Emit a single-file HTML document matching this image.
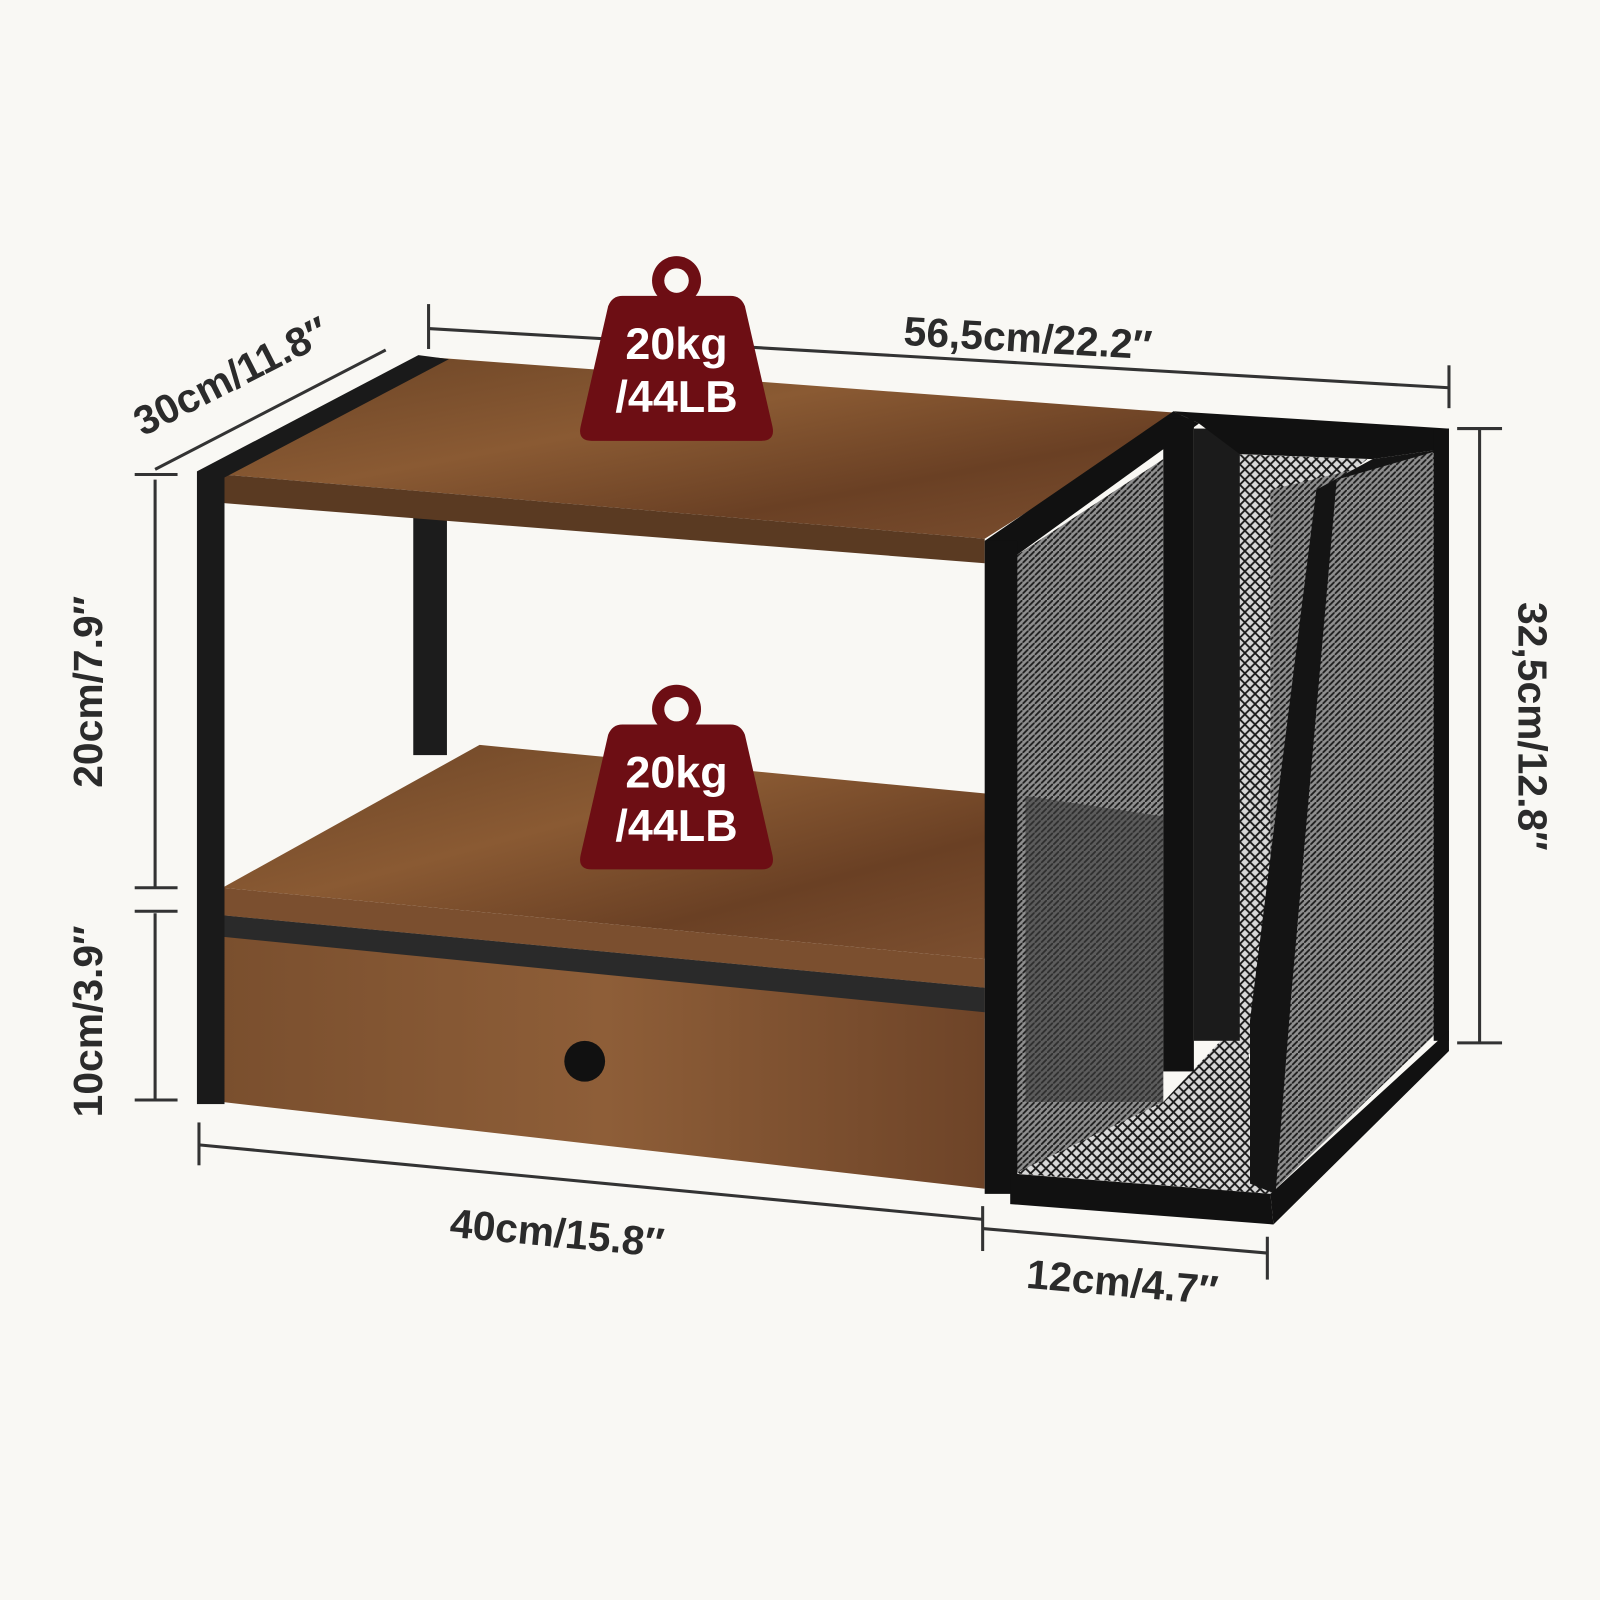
<!DOCTYPE html>
<html><head><meta charset="utf-8"><style>
html,body{margin:0;padding:0;background:#f9f8f4;}
svg{display:block}
text{font-family:"Liberation Sans",sans-serif;fill:#2b2b2b;font-size:40px;font-weight:bold}
</style></head><body>
<svg width="1600" height="1600" viewBox="0 0 1568 1568" xmlns="http://www.w3.org/2000/svg">
<defs>
<linearGradient id="wood" x1="0" y1="0" x2="1" y2="1">
<stop offset="0" stop-color="#6b4426"/><stop offset="0.4" stop-color="#8a5a33"/><stop offset="0.7" stop-color="#6a4024"/><stop offset="1" stop-color="#7d5030"/></linearGradient>
<linearGradient id="woodF" x1="0" y1="0" x2="1" y2="0">
<stop offset="0" stop-color="#7a4f2e"/><stop offset="0.5" stop-color="#8e5e38"/><stop offset="1" stop-color="#6e4428"/></linearGradient>
<pattern id="mesh" width="6" height="6" patternUnits="userSpaceOnUse">
<rect width="6" height="6" fill="#8f8f8f"/><path d="M0 6L6 0" stroke="#1e1e1e" stroke-width="1.8"/></pattern>
<pattern id="mesh2" width="10" height="10" patternUnits="userSpaceOnUse">
<rect width="10" height="10" fill="#d8d8d8"/><path d="M0 0L10 10M10 0L0 10" stroke="#1a1a1a" stroke-width="1.8"/></pattern>
</defs>

<rect x="405" y="500" width="33" height="240" fill="#1c1c1c"/>
<polygon points="218,465 420,350 1160,405 965,528" fill="url(#wood)"/>
<polygon points="218,465 965,528 965,552 218,493" fill="#5a3a22"/>
<polygon points="218,870 470,730 990,780 965,940" fill="url(#wood)"/>
<polygon points="218,870 965,940 965,968 218,897" fill="#7b4f2f"/>
<polygon points="218,897 965,968 965,1165 218,1080" fill="url(#woodF)"/>
<polygon points="218,897 965,968 965,992 218,918" fill="#2a2a2a"/>
<circle cx="573" cy="1040" r="20" fill="#111"/>
<rect x="193" y="462" width="27" height="620" fill="#1a1a1a"/>
<polygon points="193,462 410,348 440,352 220,468" fill="#1a1a1a"/>

<!-- right mesh unit -->
<polygon points="995,545 1140,450 1140,1080 995,1150" fill="url(#mesh)"/>
<polygon points="1210,445 1340,450 1290,490 1230,1030 1210,1040" fill="url(#mesh2)"/>
<polygon points="1245,480 1410,440 1410,1010 1245,1170" fill="url(#mesh)"/>
<polygon points="995,1150 1140,1080 1215,1000 1240,1100 1245,1170 995,1150" fill="url(#mesh2)"/>
<polygon points="1005,780 1140,800 1140,1080 1005,1080" fill="#3a3a3a" opacity="0.6"/>
<polygon points="965,530 1150,403 1175,415 995,545" fill="#111"/>
<rect x="965" y="530" width="32" height="640" fill="#111"/>
<rect x="1140" y="410" width="30" height="640" fill="#111"/>
<rect x="1170" y="420" width="45" height="600" fill="#1b1b1b"/>
<polygon points="1150,403 1420,420 1415,440 1345,450 1215,445 1175,415" fill="#111"/>
<polygon points="1345,450 1415,440 1310,470 1265,980 1250,1170 1225,1160 1225,1000 1290,480" fill="#141414"/>
<rect x="1405" y="420" width="15" height="600" fill="#111"/>
<polygon points="1420,1010 1420,1030 1248,1200 1245,1170" fill="#111"/>
<polygon points="990,1150 1245,1170 1248,1200 990,1180" fill="#111"/>

<g stroke="#333" stroke-width="3" fill="none">
<line x1="420" y1="322" x2="1420" y2="380"/>
<line x1="420" y1="298" x2="420" y2="342"/>
<line x1="1420" y1="358" x2="1420" y2="400"/>
<line x1="152" y1="460" x2="378" y2="343"/>
<line x1="152" y1="470" x2="152" y2="870"/>
<line x1="132" y1="465" x2="174" y2="465"/>
<line x1="132" y1="870" x2="174" y2="870"/>
<line x1="152" y1="895" x2="152" y2="1078"/>
<line x1="132" y1="893" x2="174" y2="893"/>
<line x1="132" y1="1078" x2="174" y2="1078"/>
<line x1="1450" y1="420" x2="1450" y2="1022"/>
<line x1="1428" y1="420" x2="1472" y2="420"/>
<line x1="1428" y1="1022" x2="1472" y2="1022"/>
<line x1="195" y1="1122" x2="963" y2="1195"/>
<line x1="195" y1="1100" x2="195" y2="1142"/>
<line x1="963" y1="1182" x2="963" y2="1226"/>
<line x1="963" y1="1204" x2="1242" y2="1228"/>
<line x1="1242" y1="1212" x2="1242" y2="1254"/>
</g>
<text transform="translate(885,338) rotate(3.3)">56,5cm/22.2″</text>
<text transform="translate(140,428) rotate(-27)">30cm/11.8″</text>
<text transform="translate(100,772) rotate(-90)">20cm/7.9″</text>
<text transform="translate(100,1095) rotate(-90)">10cm/3.9″</text>
<text transform="translate(1488,590) rotate(90)">32,5cm/12.8″</text>
<text transform="translate(440,1212) rotate(5.4)">40cm/15.8″</text>
<text transform="translate(1005,1262) rotate(5)">12cm/4.7″</text>

<g>
<circle cx="663" cy="275" r="24" fill="#6d0e14"/><circle cx="663" cy="275" r="12" fill="#f9f8f4"/>
<path d="M610,290 L716,290 Q726,290 730,300 L757,418 Q760,432 746,432 L580,432 Q566,432 569,418 L596,300 Q600,290 610,290 Z" fill="#6d0e14"/>
<text x="663" y="352" text-anchor="middle" style="fill:#fff;font-size:44px">20kg</text>
<text x="663" y="404" text-anchor="middle" style="fill:#fff;font-size:44px">/44LB</text>
</g>
<g transform="translate(0,420)">
<circle cx="663" cy="275" r="24" fill="#6d0e14"/><circle cx="663" cy="275" r="12" fill="#f9f8f4"/>
<path d="M610,290 L716,290 Q726,290 730,300 L757,418 Q760,432 746,432 L580,432 Q566,432 569,418 L596,300 Q600,290 610,290 Z" fill="#6d0e14"/>
<text x="663" y="352" text-anchor="middle" style="fill:#fff;font-size:44px">20kg</text>
<text x="663" y="404" text-anchor="middle" style="fill:#fff;font-size:44px">/44LB</text>
</g>
</svg>
</body></html>
